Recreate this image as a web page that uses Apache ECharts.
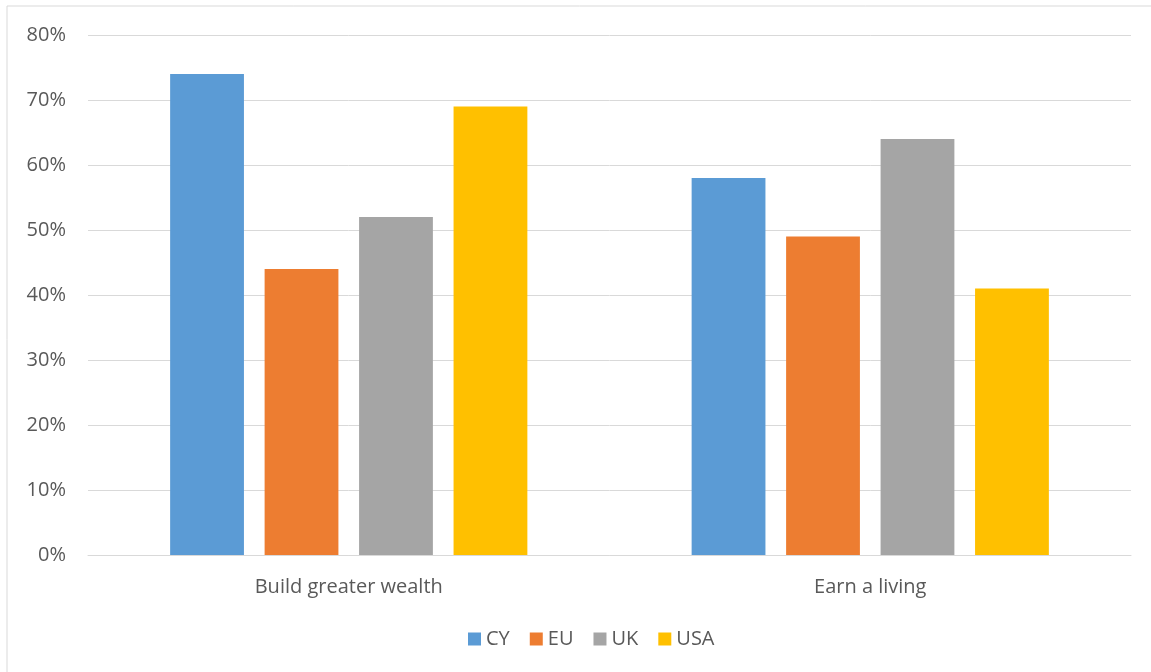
<!DOCTYPE html>
<html><head><meta charset="utf-8">
<script src="https://cdn.jsdelivr.net/npm/echarts@6/dist/echarts.min.js"></script>
<style>html,body{margin:0;padding:0;background:#fff}#c{width:1151px;height:672px}</style>
</head><body><div id="c"></div>
<script>
const categories = ['Build greater wealth', 'Earn a living'];
const seriesNames = ['CY', 'EU', 'UK', 'USA'];
const CY = [0.74, 0.58];
const EU = [0.44, 0.49];
const UK = [0.52, 0.64];
const USA = [0.69, 0.41];
const colors = ['#5b9bd5', '#ed7d31', '#a5a5a5', '#ffc000'];
const values = [CY, EU, UK, USA];
const font = 'Open Sans';
const chart = echarts.init(document.getElementById('c'));
chart.setOption({
  animation: false,
  color: colors,
  graphic: [{type: 'rect', shape: {x: 7, y: 6, width: 1160, height: 680}, style: {fill: 'none', stroke: '#d9d9d9', lineWidth: 1}, silent: true}],
  grid: {left: 88, right: 20, top: 35, bottom: 117},
  legend: {
    bottom: 18, left: 463, itemWidth: 13, itemHeight: 13, itemGap: 20,
    icon: 'rect',
    textStyle: {color: '#595959', fontSize: 20, fontFamily: font}
  },
  xAxis: {
    type: 'category', data: categories,
    axisLine: {lineStyle: {color: '#d9d9d9', width: 1}},
    axisTick: {show: false},
    axisLabel: {color: '#595959', fontSize: 20, fontFamily: font, margin: 22}
  },
  yAxis: {
    type: 'value', min: 0, max: 0.8, interval: 0.1,
    axisLine: {show: false}, axisTick: {show: false},
    splitLine: {lineStyle: {color: '#d9d9d9', width: 1}},
    axisLabel: {color: '#595959', fontSize: 20, fontFamily: font, margin: 22,
      formatter: v => Math.round(v * 100) + '%'}
  },
  series: seriesNames.map((n, i) => ({
    name: n, type: 'bar', data: values[i],
    barGap: '28%', barCategoryGap: '31.5%'
  }))
});
</script></body></html>
